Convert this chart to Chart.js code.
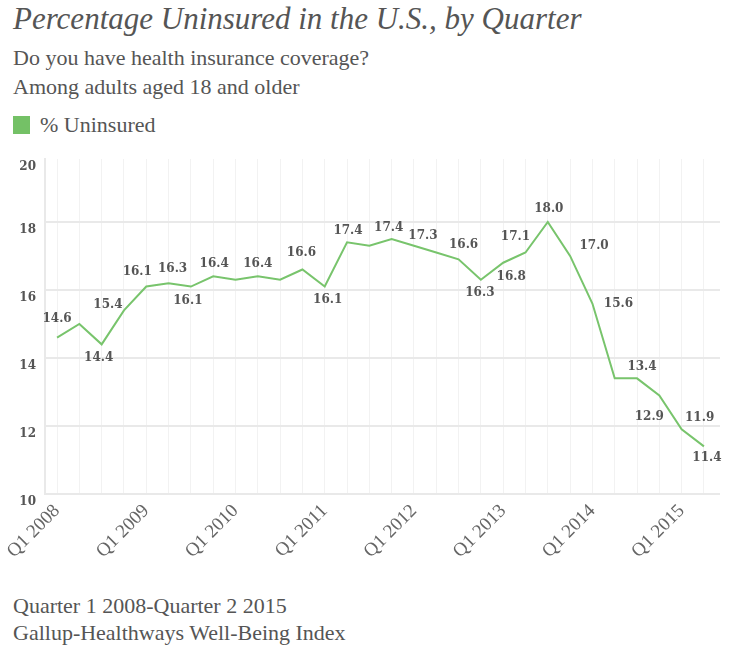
<!DOCTYPE html>
<html>
<head>
<meta charset="utf-8">
<script src="https://cdn.jsdelivr.net/npm/chart.js@4.4.1/dist/chart.umd.min.js"></script>
<style>
  body { margin: 0; background: #fff; width: 745px; height: 659px; overflow: hidden; position: relative; font-family: 'Liberation Serif', serif; color: #555; }
  .txt { position: absolute; left: 13px; white-space: nowrap; }
  #title { top: 1px; font-size: 31px; font-style: italic; }
  #sub1 { top: 45px; font-size: 22px; }
  #sub2 { top: 74px; font-size: 22px; }
  #legend { top: 112px; font-size: 22px; }
  #legend span { display: inline-block; width: 17px; height: 18px; background: #74c166; vertical-align: -2px; margin-right: 10px; }
  #foot1 { top: 593px; font-size: 22px; }
  #foot2 { top: 620px; font-size: 22px; }
  #wrap { position: absolute; left: 0; top: 150px; width: 745px; height: 414px; }
</style>
</head>
<body>
<div class="txt" id="title">Percentage Uninsured in the U.S., by Quarter</div>
<div class="txt" id="sub1">Do you have health insurance coverage?</div>
<div class="txt" id="sub2">Among adults aged 18 and older</div>
<div class="txt" id="legend"><span></span>% Uninsured</div>
<div id="wrap"><canvas id="lineChart"></canvas></div>
<div class="txt" id="foot1">Quarter 1 2008-Quarter 2 2015</div>
<div class="txt" id="foot2">Gallup-Healthways Well-Being Index</div>

<script>
// quarters Q1 2008 .. Q2 2015
const quarters = [
  'Q1 2008','Q2 2008','Q3 2008','Q4 2008',
  'Q1 2009','Q2 2009','Q3 2009','Q4 2009',
  'Q1 2010','Q2 2010','Q3 2010','Q4 2010',
  'Q1 2011','Q2 2011','Q3 2011','Q4 2011',
  'Q1 2012','Q2 2012','Q3 2012','Q4 2012',
  'Q1 2013','Q2 2013','Q3 2013','Q4 2013',
  'Q1 2014','Q2 2014','Q3 2014','Q4 2014',
  'Q1 2015','Q2 2015'
];
const uninsured = [
  14.6, 15.0, 14.4, 15.4,
  16.1, 16.2, 16.1, 16.4,
  16.3, 16.4, 16.3, 16.6,
  16.1, 17.4, 17.3, 17.5,
  17.3, 17.1, 16.9, 16.3,
  16.8, 17.1, 18.0, 17.0,
  15.6, 13.4, 13.4, 12.9,
  11.9, 11.4
];
// printed value labels (null = no label)
const valueLabels = [
  '14.6', null, '14.4', '15.4',
  '16.1', '16.3', '16.1', '16.4',
  null, '16.4', null, '16.6',
  '16.1', '17.4', null, '17.4',
  '17.3', null, '16.6', '16.3',
  '16.8', '17.1', '18.0', '17.0',
  '15.6', null, '13.4', '12.9',
  '11.9', '11.4'
];
const yTicks = [10, 12, 14, 16, 18, 20];
const Y_MIN = 10, Y_MAX = 19.85;

// label placement relative to the point [dx, dy]
const labelOffset = [
  [0,-19], null, [-3,14], [-16,-5],
  [-9,-15], [4,-14], [-3,14], [1,-12],
  null, [0,-12], null, [-1,-17],
  [3,13], [1,-11], null, [-3,-11],
  [9,-10], null, [5,-14], [-1,13],
  [8,14], [-10,-16], [1,-13], [24,-10],
  [26,0], null, [5,-11], [-10,22],
  [18,-12], [3,11]
];

const LINE_GREEN = '#78c46c';
const TEXT = '#555';

const valueLabelPlugin = {
  id: 'valueLabels',
  afterDatasetsDraw(chart) {
    const meta = chart.getDatasetMeta(0);
    const c = chart.ctx;
    c.save();
    c.font = "bold 12px 'DejaVu Serif', serif";
    c.fillStyle = TEXT;
    c.textAlign = 'center';
    c.textBaseline = 'middle';
    valueLabels.forEach((t, i) => {
      if (!t) return;
      const p = meta.data[i];
      const off = labelOffset[i];
      c.fillText(t, p.x + off[0], p.y + off[1]);
    });
    c.restore();
  }
};

new Chart(document.getElementById('lineChart'), {
  type: 'line',
  data: {
    datasets: [{
      label: '% Uninsured',
      data: uninsured.map((v, i) => ({ x: i, y: v })),
      borderColor: LINE_GREEN,
      borderWidth: 2,
      pointRadius: 0,
      tension: 0,
      fill: false
    }]
  },
  options: {
    responsive: true,
    maintainAspectRatio: false,
    animation: false,
    layout: { padding: { top: 9, right: 25, left: 0, bottom: 0 } },
    plugins: { legend: { display: false }, tooltip: { enabled: false } },
    scales: {
      x: {
        type: 'linear',
        min: -0.54,
        max: 29.72,
        afterBuildTicks: s => { s.ticks = quarters.map((q, i) => ({ value: i })); },
        afterFit: s => { s.height = 70; },
        grid: { color: '#f2f2f2', lineWidth: 1, drawTicks: false },
        border: { display: false },
        ticks: {
          autoSkip: false,
          minRotation: 45,
          maxRotation: 45,
          padding: 6,
          color: '#666',
          font: { family: "'Liberation Serif', serif", size: 19 },
          callback: v => quarters[v] && quarters[v].startsWith('Q1') ? quarters[v] : ''
        }
      },
      y: {
        min: Y_MIN,
        max: Y_MAX,
        afterBuildTicks: s => { s.ticks = yTicks.map(v => ({ value: Math.min(v, Y_MAX), label: v })); },
        afterFit: s => { s.width = 45; s.paddingTop = 0; s.paddingBottom = 0; },
        grid: {
          color: c => (c.tick && c.tick.value >= Y_MAX) ? 'rgba(0,0,0,0)' : '#e9e9e9',
          lineWidth: 2,
          drawTicks: false
        },
        border: { display: true, color: '#e9e9e9', width: 2 },
        ticks: {
          padding: 9,
          labelOffset: 8,
          color: TEXT,
          font: { family: "'DejaVu Serif', serif", size: 12, weight: 'bold' },
          callback: (v, i) => String(yTicks[i])
        }
      }
    }
  },
  plugins: [valueLabelPlugin]
});
</script>
</body>
</html>
